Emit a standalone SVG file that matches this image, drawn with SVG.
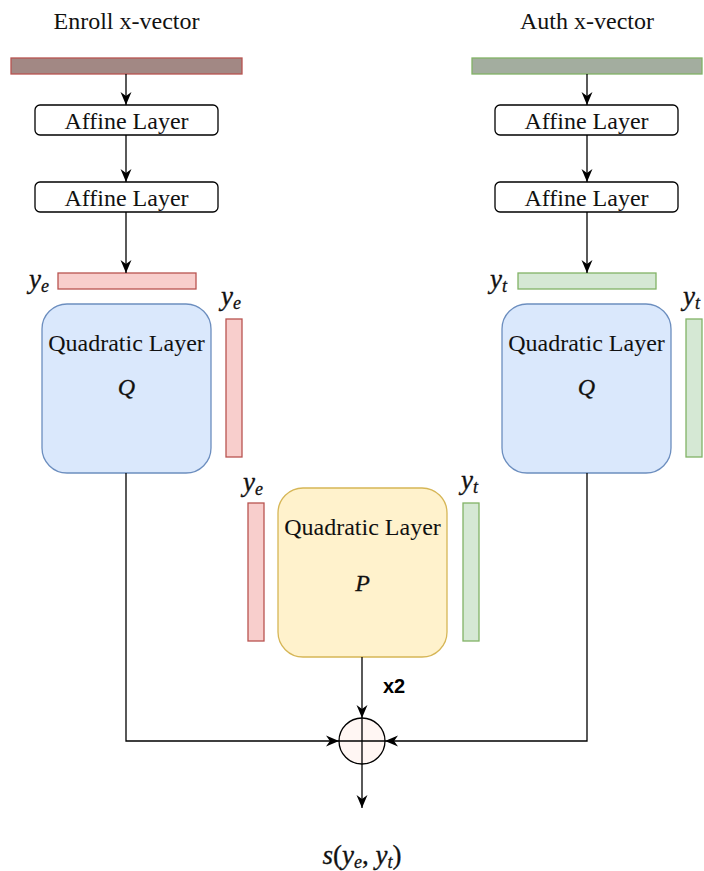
<svg xmlns="http://www.w3.org/2000/svg" width="704" height="871" viewBox="0 0 704 871">
  <style>
    .title { font-family: "Liberation Serif", "Times New Roman", serif; font-size: 24px; fill: #111; text-anchor: middle; }
    .lbl { font-family: "Liberation Serif", "Times New Roman", serif; font-size: 24px; fill: #111; text-anchor: middle; }
    .math { font-family: "Liberation Serif", "DejaVu Serif", serif; font-style: italic; font-size: 27px; fill: #111; stroke: #111; stroke-width: 0.3; }
    .sym { font-size: 24px; text-anchor: middle; }
    .up { font-style: normal; }
    .sub { font-size: 18px; }
    .affine { fill: #ffffff; stroke: #000; stroke-width: 1.3; }
    .quadq { fill: #dae8fc; stroke: #6c8ebf; stroke-width: 1.3; }
    .quadp { fill: #fff2cc; stroke: #d6b656; stroke-width: 1.3; }
    .vre { fill: #f8cecc; stroke: #b85450; stroke-width: 1.3; }
    .vgr { fill: #d5e8d4; stroke: #82b366; stroke-width: 1.3; }
    .edge { fill: none; stroke: #000; stroke-width: 1.3; }
    .x2 { font-family: "Liberation Sans", Arial, sans-serif; font-weight: bold; font-size: 20px; fill: #000; }
  </style>
  <defs>
    <marker id="arrow" viewBox="0 0 10 10" refX="10" refY="5" markerWidth="13" markerHeight="13" markerUnits="userSpaceOnUse" orient="auto">
      <path d="M0,0.8 L10,5 L0,9.2 L3,5 Z" fill="#000"/>
    </marker>
  </defs>

  <rect width="704" height="871" fill="#ffffff"/>

  <!-- input titles -->
  <text class="title" x="126.5" y="29">Enroll x-vector</text>
  <text class="title" x="587" y="29">Auth x-vector</text>

  <!-- x-vector bars -->
  <g id="enroll-vector"><rect x="11" y="58" width="231" height="16" fill="#a28884" stroke="#b85450" stroke-width="1.3"/></g>
  <g id="auth-vector"><rect x="472" y="58" width="230" height="16" fill="#a3ad9f" stroke="#82b366" stroke-width="1.3"/></g>

  <!-- left branch -->
  <g id="affine-e1"><rect class="affine" x="35" y="105" width="183" height="30" rx="5"/><text class="lbl" x="126.5" y="129">Affine Layer</text></g>
  <g id="affine-e2"><rect class="affine" x="35" y="182" width="183" height="30" rx="5"/><text class="lbl" x="126.5" y="206">Affine Layer</text></g>
  <g id="ye-row"><rect class="vre" x="58" y="273" width="138" height="16"/><text class="math" x="29" y="288">y<tspan class="sub" dy="4">e</tspan></text></g>
  <g id="quad-q-e"><rect class="quadq" x="42" y="304" width="169" height="169" rx="25"/><text class="lbl" x="126.5" y="351">Quadratic Layer</text><text class="math sym" x="126.5" y="395">Q</text></g>
  <g id="ye-col"><rect class="vre" x="226" y="319" width="16" height="138"/><text class="math" x="221" y="305">y<tspan class="sub" dy="4">e</tspan></text></g>

  <!-- right branch -->
  <g id="affine-t1"><rect class="affine" x="495" y="105" width="183" height="30" rx="5"/><text class="lbl" x="586.5" y="129">Affine Layer</text></g>
  <g id="affine-t2"><rect class="affine" x="495" y="182" width="183" height="30" rx="5"/><text class="lbl" x="586.5" y="206">Affine Layer</text></g>
  <g id="yt-row"><rect class="vgr" x="518" y="273" width="138" height="16"/><text class="math" x="490" y="288">y<tspan class="sub" dy="4">t</tspan></text></g>
  <g id="quad-q-t"><rect class="quadq" x="502" y="304" width="169" height="169" rx="25"/><text class="lbl" x="586.5" y="351">Quadratic Layer</text><text class="math sym" x="586.5" y="395">Q</text></g>
  <g id="yt-col"><rect class="vgr" x="686" y="319" width="16" height="138"/><text class="math" x="683" y="305">y<tspan class="sub" dy="4">t</tspan></text></g>

  <!-- cross term -->
  <g id="ye-col-p"><rect class="vre" x="248" y="503" width="16" height="138"/><text class="math" x="243" y="491">y<tspan class="sub" dy="4">e</tspan></text></g>
  <g id="quad-p"><rect class="quadp" x="278" y="488" width="169" height="169" rx="25"/><text class="lbl" x="362.5" y="535">Quadratic Layer</text><text class="math sym" x="362.5" y="591">P</text></g>
  <g id="yt-col-p"><rect class="vgr" x="463" y="503" width="16" height="138"/><text class="math" x="461" y="489">y<tspan class="sub" dy="4">t</tspan></text></g>

  <!-- summation node -->
  <g id="sum">
    <circle cx="362" cy="741" r="23" fill="#fff6f3" stroke="#000" stroke-width="1.3"/>
    <path d="M339,741 H385 M362,718 V764" class="edge"/>
  </g>

  <!-- connectors -->
  <g id="connectors">
    <path class="edge" d="M126,74 V105" marker-end="url(#arrow)"/>
    <path class="edge" d="M126,135 V182" marker-end="url(#arrow)"/>
    <path class="edge" d="M126,212 V273" marker-end="url(#arrow)"/>
    <path class="edge" d="M587,74 V105" marker-end="url(#arrow)"/>
    <path class="edge" d="M587,135 V182" marker-end="url(#arrow)"/>
    <path class="edge" d="M587,212 V273" marker-end="url(#arrow)"/>
    <path class="edge" d="M126,473 V741 H339" marker-end="url(#arrow)"/>
    <path class="edge" d="M587,473 V741 H385" marker-end="url(#arrow)"/>
    <path class="edge" d="M362,657 V718" marker-end="url(#arrow)"/>
    <path class="edge" d="M362,764 V808" marker-end="url(#arrow)"/>
    <text class="x2" x="383" y="693">x2</text>
  </g>

  <!-- output -->
  <text class="math" x="362" y="864" text-anchor="middle">s<tspan class="up">(</tspan>y<tspan class="sub" dy="4">e</tspan><tspan class="up" dy="-4">, </tspan>y<tspan class="sub" dy="4">t</tspan><tspan class="up" dy="-4">)</tspan></text>
</svg>
